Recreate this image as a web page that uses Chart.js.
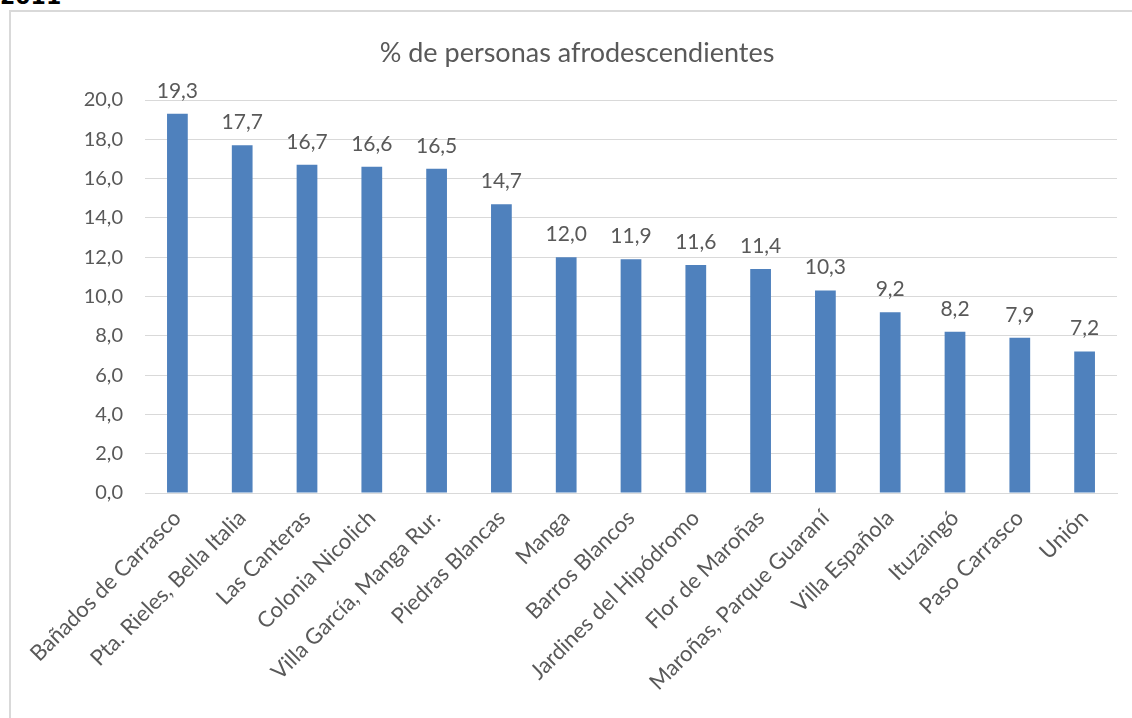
<!DOCTYPE html>
<html>
<head>
<meta charset="utf-8">
<script src="https://cdn.jsdelivr.net/npm/chart.js@4.4.0/dist/chart.umd.min.js"></script>
<style>
  html, body { margin: 0; padding: 0; background: #fff; overflow: hidden; width: 1132px; height: 718px; }
  #yr { position: absolute; left: 0; top: -14px; font: bold 22px "DejaVu Sans", sans-serif; line-height: 1; color: #000; }
  #frame { position: absolute; left: 9px; top: 10px; width: 1200px; height: 800px; border: 2px solid #d9d9d9; box-sizing: border-box; }
  #wrap { position: absolute; left: 11px; top: 12px; width: 1132px; height: 706px; }
</style>
</head>
<body>
<div id="yr">2011</div>
<div id="frame"></div>
<div id="wrap"><canvas id="barrios"></canvas></div>
<script>
var titulo = "% de personas afrodescendientes";
var barrios = ["Bañados de Carrasco", "Pta. Rieles, Bella Italia", "Las Canteras", "Colonia Nicolich",
    "Villa García, Manga Rur.", "Piedras Blancas", "Manga", "Barros Blancos", "Jardines del Hipódromo",
    "Flor de Maroñas", "Maroñas, Parque Guaraní", "Villa Española", "Ituzaingó", "Paso Carrasco", "Unión"];
var porcentajes = [19.3, 17.7, 16.7, 16.6, 16.5, 14.7, 12.0, 11.9, 11.6, 11.4, 10.3, 9.2, 8.2, 7.9, 7.2];
var yTicks = [0, 2, 4, 6, 8, 10, 12, 14, 16, 18, 20];

var FONT = "Lato, 'Open Sans', sans-serif";
var GRAY = "#595959";

function coma(v) {
    return v.toFixed(1).replace(".", ",");
}

// etiquetas de datos encima de cada barra + titulo centrado en todo el grafico
var etiquetas = {
    id: "etiquetas",
    afterDatasetsDraw: function(chart) {
        var ctx = chart.ctx;
        var meta = chart.getDatasetMeta(0);
        ctx.save();
        ctx.font = "21px " + FONT;
        ctx.fillStyle = GRAY;
        ctx.textAlign = "center";
        ctx.textBaseline = "middle";
        meta.data.forEach(function(bar, i) {
            ctx.fillText(coma(porcentajes[i]), bar.x, bar.y - 23);
        });
        ctx.font = "27px " + FONT;
        ctx.fillText(titulo, chart.width / 2, 41);
        ctx.restore();
    }
};

var ctx = document.getElementById("barrios").getContext("2d");
var grafico = new Chart(ctx, {
    type: "bar",
    data: {
        labels: barrios,
        datasets: [{
            label: titulo,
            data: porcentajes,
            backgroundColor: "#4f81bd",
            borderWidth: 0,
            categoryPercentage: 1.0,
            barPercentage: 0.32
        }]
    },
    options: {
        responsive: true,
        maintainAspectRatio: false,
        animation: false,
        layout: { padding: { left: 0, right: 26, top: 88, bottom: 0 } },
        plugins: {
            legend: { display: false },
            tooltip: { enabled: false },
            title: { display: false }
        },
        scales: {
            x: {
                grid: { display: false },
                border: { display: true, color: "#d9d9d9", width: 1 },
                ticks: {
                    color: GRAY,
                    font: { family: FONT, size: 22 },
                    maxRotation: 45,
                    minRotation: 45,
                    autoSkip: false,
                    padding: 4
                },
                afterFit: function(scale) { scale.height = 225; }
            },
            y: {
                min: 0,
                max: 20,
                afterBuildTicks: function(scale) {
                    scale.ticks = yTicks.map(function(v) { return { value: v }; });
                },
                grid: { color: "#d9d9d9", drawTicks: false },
                border: { display: false },
                ticks: {
                    color: GRAY,
                    font: { family: FONT, size: 20 },
                    padding: 22,
                    callback: function(v) { return coma(v); }
                },
                afterFit: function(scale) { scale.width = 134; }
            }
        }
    },
    plugins: [etiquetas]
});
</script>
</body>
</html>
